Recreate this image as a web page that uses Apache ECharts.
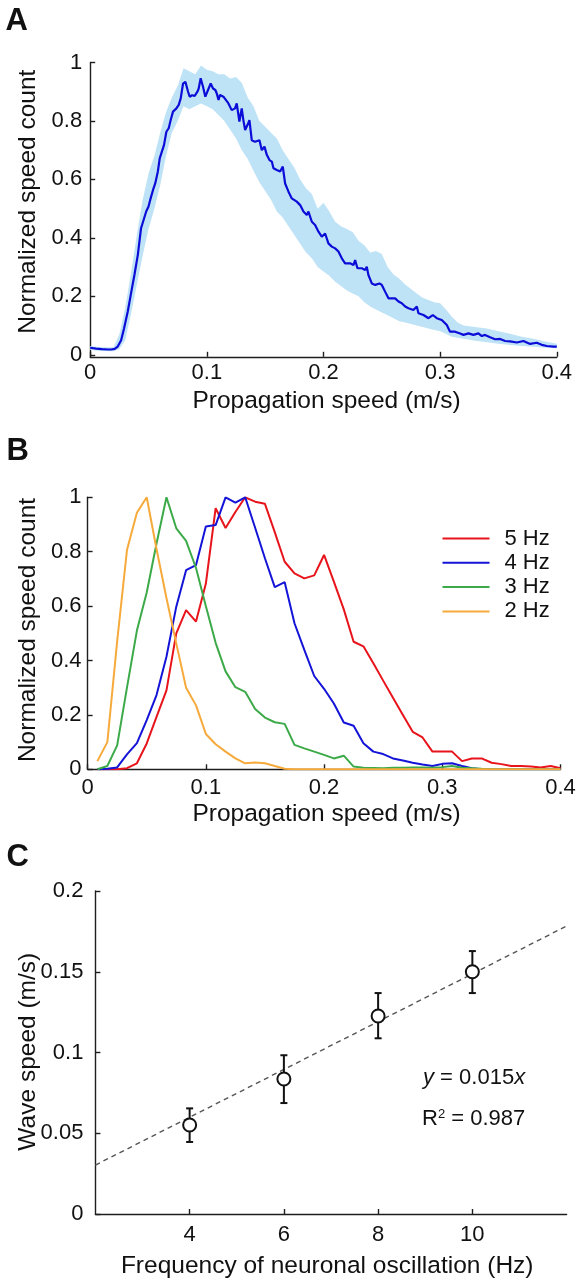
<!DOCTYPE html>
<html>
<head>
<meta charset="utf-8">
<script src="https://cdn.jsdelivr.net/npm/echarts@6/dist/echarts.min.js"></script>
<style>
html,body{margin:0;padding:0;background:#fff;}
#chart{width:582px;height:1286px;}
</style>
</head>
<body>
<div id="chart"></div>
<script>
// ---------- Panel A: mean normalized speed count with shaded band ----------
const speedA = [0,0.005,0.01,0.015,0.018,0.021,0.0236,0.0265,0.029,0.0322,0.035,0.0379,0.0408,0.0436,0.045,0.048,0.05,0.0518,0.0538,0.0558,0.058,0.0596,0.061,0.0633,0.0653,0.0673,0.069,0.071,0.0739,0.0759,0.0776,0.0796,0.0816,0.0839,0.0853,0.0873,0.0896,0.0919,0.093,0.0947,0.0967,0.0987,0.101,0.1033,0.1053,0.1073,0.1085,0.11,0.1113,0.1142,0.1156,0.1185,0.1213,0.1242,0.1256,0.1279,0.1299,0.1313,0.1328,0.1348,0.1365,0.1385,0.1413,0.1428,0.1451,0.1471,0.1494,0.1514,0.1537,0.1557,0.1571,0.16,0.1628,0.1651,0.1671,0.17,0.1728,0.1771,0.18,0.1828,0.1857,0.1871,0.19,0.1928,0.1957,0.1985,0.2014,0.2042,0.2071,0.21,0.2128,0.2157,0.2185,0.22,0.2228,0.2257,0.2271,0.2291,0.2328,0.2357,0.2371,0.2385,0.2414,0.2443,0.248,0.25,0.2528,0.2557,0.2585,0.2614,0.2643,0.2671,0.27,0.2728,0.2771,0.28,0.2814,0.2857,0.29,0.2937,0.2971,0.3014,0.3057,0.3085,0.3128,0.3171,0.32,0.3243,0.3285,0.3328,0.3357,0.3385,0.3428,0.3471,0.3514,0.3557,0.36,0.3657,0.3714,0.3771,0.3828,0.3871,0.3914,0.3971,0.4];
const meanA = [0.024,0.021,0.019,0.018,0.018,0.02,0.028,0.05,0.09,0.148,0.21,0.273,0.341,0.433,0.433,0.49,0.507,0.535,0.563,0.587,0.627,0.672,0.678,0.718,0.763,0.775,0.803,0.832,0.843,0.855,0.877,0.928,0.934,0.9,0.883,0.888,0.886,0.9,0.911,0.946,0.917,0.883,0.906,0.928,0.911,0.906,0.894,0.872,0.889,0.883,0.889,0.86,0.837,0.843,0.86,0.798,0.843,0.803,0.769,0.786,0.803,0.734,0.729,0.723,0.734,0.7,0.712,0.684,0.666,0.661,0.638,0.632,0.627,0.644,0.586,0.558,0.535,0.524,0.512,0.49,0.478,0.49,0.455,0.444,0.421,0.404,0.415,0.381,0.37,0.364,0.353,0.33,0.313,0.319,0.313,0.307,0.324,0.296,0.296,0.29,0.301,0.273,0.244,0.239,0.244,0.239,0.216,0.193,0.193,0.193,0.182,0.176,0.165,0.159,0.153,0.165,0.142,0.136,0.125,0.136,0.125,0.119,0.102,0.079,0.079,0.073,0.068,0.073,0.068,0.073,0.064,0.068,0.06,0.053,0.054,0.047,0.046,0.042,0.047,0.037,0.041,0.034,0.03,0.028,0.028];
const bandSpeed = [0,0.01,0.02,0.025,0.03,0.035,0.04,0.045,0.05,0.055,0.06,0.065,0.07,0.075,0.08,0.085,0.09,0.095,0.1,0.105,0.11,0.115,0.12,0.125,0.13,0.135,0.14,0.145,0.15,0.155,0.16,0.165,0.17,0.175,0.18,0.185,0.19,0.195,0.2,0.205,0.21,0.215,0.22,0.225,0.23,0.235,0.24,0.245,0.25,0.255,0.26,0.265,0.27,0.275,0.28,0.285,0.29,0.295,0.3,0.305,0.31,0.315,0.32,0.33,0.34,0.35,0.36,0.37,0.38,0.39,0.4];
const bandLow = [0.016,0.013,0.012,0.02,0.05,0.14,0.24,0.34,0.43,0.50,0.58,0.68,0.76,0.80,0.85,0.84,0.85,0.86,0.85,0.84,0.82,0.80,0.77,0.74,0.70,0.67,0.63,0.59,0.56,0.53,0.49,0.47,0.44,0.41,0.38,0.35,0.33,0.30,0.285,0.27,0.25,0.235,0.22,0.21,0.20,0.18,0.165,0.155,0.145,0.135,0.125,0.115,0.11,0.105,0.10,0.095,0.09,0.085,0.08,0.072,0.062,0.058,0.055,0.048,0.043,0.038,0.033,0.03,0.027,0.024,0.022];
const bandHigh = [0.03,0.026,0.026,0.07,0.16,0.28,0.41,0.53,0.62,0.68,0.76,0.83,0.88,0.92,0.98,0.97,0.96,0.99,0.975,0.97,0.96,0.96,0.945,0.95,0.93,0.88,0.85,0.80,0.78,0.76,0.74,0.70,0.67,0.64,0.60,0.57,0.55,0.50,0.52,0.49,0.455,0.44,0.43,0.42,0.39,0.375,0.35,0.355,0.345,0.30,0.275,0.26,0.24,0.225,0.21,0.195,0.187,0.18,0.176,0.155,0.13,0.11,0.10,0.095,0.09,0.08,0.072,0.062,0.055,0.045,0.038];

// ---------- Panel B: per-frequency speed histograms ----------
const speedB = [0.0083,0.0167,0.025,0.0333,0.0417,0.05,0.0583,0.0667,0.075,0.0833,0.0917,0.1,0.1083,0.1167,0.125,0.1333,0.1417,0.15,0.1583,0.1667,0.175,0.1833,0.1917,0.2,0.2083,0.2167,0.225,0.2333,0.2417,0.25,0.2583,0.2667,0.275,0.2833,0.2917,0.3,0.3083,0.3167,0.325,0.3333,0.3417,0.35,0.3583,0.3667,0.375,0.3833,0.3917,0.4];
const hz5 = [0,0,0,0.004,0.022,0.095,0.193,0.29,0.5,0.585,0.543,0.682,0.96,0.887,0.946,1.0,0.984,0.976,0.872,0.763,0.72,0.702,0.713,0.788,0.69,0.588,0.469,0.452,0.39,0.326,0.263,0.2,0.138,0.117,0.065,0.065,0.065,0.03,0.04,0.04,0.024,0.019,0.012,0.012,0.01,0.007,0.012,0.004];
const hz4 = [0,0.002,0.007,0.055,0.096,0.181,0.273,0.414,0.598,0.732,0.751,0.893,0.898,1.0,0.98,1.0,0.888,0.776,0.67,0.688,0.537,0.439,0.343,0.296,0.242,0.172,0.16,0.096,0.065,0.056,0.04,0.032,0.024,0.018,0.012,0.02,0.022,0.012,0.004,0,0,0,0,0,0,0,0,0];
const hz3 = [0,0.012,0.088,0.30,0.51,0.65,0.83,1.0,0.886,0.84,0.74,0.60,0.465,0.36,0.302,0.285,0.222,0.19,0.173,0.167,0.09,0.077,0.065,0.053,0.04,0.05,0.01,0.006,0.005,0.004,0.006,0.006,0.007,0.007,0.006,0.008,0.012,0.006,0.004,0.002,0,0,0,0,0,0,0,0];
const hz2 = [0.03,0.10,0.47,0.806,0.943,1.0,0.81,0.63,0.463,0.30,0.235,0.13,0.092,0.065,0.04,0.022,0.025,0.022,0.012,0.002,0,0,0,0,0,0,0,0,0,0,0,0,0,0,0,0,0,0,0,0,0,0,0,0,0,0,0,0];
const legendB = ['5 Hz','4 Hz','3 Hz','2 Hz'];

// ---------- Panel C: wave speed vs oscillation frequency ----------
const freqC = [4,6,8,10];
const waveSpeed = [0.0551,0.0836,0.1226,0.150];
const errLow = [0.0446,0.0687,0.1088,0.1368];
const errHigh = [0.0654,0.0983,0.1368,0.1628];
const fitLine = [[2,0.0303],[12,0.1783]];
const ticksA = [0,0.2,0.4,0.6,0.8,1];
const ticksCx = [4,6,8,10];

const FONT = "'Liberation Sans', Arial, sans-serif";
const AX = '#1e1e1e';

function zip(a,b){ return a.map((v,i)=>[v,b[i]]); }
function axis(extra, labelExtra){
  return Object.assign({
    type:'value',
    axisLine:{show:true,onZero:false,lineStyle:{color:AX,width:1.4}},
    axisTick:{show:true,inside:true,length:5,lineStyle:{color:AX,width:1.4}},
    splitLine:{show:false},
    axisLabel:Object.assign({color:'#111',fontSize:22,fontFamily:FONT}, labelExtra||{})
  }, extra);
}
function txt(text,x,y,size,o){
  o = o||{};
  return {type:'text', x:x, y:y, rotation:o.rot||0, z:100,
    style:{text:text, fontSize:size, fontFamily:FONT, fontWeight:o.bold?'bold':'normal', fill:'#111',
      align:o.align||'center', verticalAlign:'middle', textAlign:o.align||'center', textVerticalAlign:'middle', rich:o.rich}};
}
const fmt = v => String(+(+v).toFixed(3));

const chart = echarts.init(document.getElementById('chart'), null, {renderer:'canvas'});
const option = {
  backgroundColor:'#fff',
  animation:false,
  grid:[
    {left:90.2, top:62.5, width:466.6, height:294.3},
    {left:87.6, top:497.3, width:472.9, height:272},
    {left:95.4, top:891, width:471.2, height:323}
  ],
  xAxis:[
    axis({gridIndex:0,min:0,max:0.4,interval:0.1},{margin:5,formatter:fmt}),
    axis({gridIndex:1,min:0,max:0.4,interval:0.1},{margin:8,formatter:fmt}),
    axis({gridIndex:2,min:2,max:12,axisTick:{show:true,inside:true,length:5,lineStyle:{color:AX,width:1.4},customValues:ticksCx}},{margin:10,customValues:ticksCx})
  ],
  yAxis:[
    axis({gridIndex:0,min:-0.007,max:1,axisTick:{show:true,inside:true,length:5,lineStyle:{color:AX,width:1.4},customValues:ticksA}},{margin:8,customValues:ticksA,formatter:fmt}),
    axis({gridIndex:1,min:0,max:1,interval:0.2},{margin:6,formatter:fmt}),
    axis({gridIndex:2,min:0,max:0.2,interval:0.05},{margin:12,formatter:fmt})
  ],
  legend:{
    data:legendB, orient:'vertical', left:442.5, top:527.5, padding:0,
    icon:'rect', itemWidth:47, itemHeight:2, itemGap:2.3, selectedMode:false,
    textStyle:{fontSize:22, fontFamily:FONT, color:'#111', lineHeight:22, padding:[0,0,0,10]}
  },
  series:[
    {name:'band', type:'custom', xAxisIndex:0, yAxisIndex:0, coordinateSystem:'cartesian2d', silent:true, z:1,
      data:[[bandSpeed[0], bandLow[0]]],
      renderItem:function(params, api){
        const pts = [];
        for (let i=0;i<bandSpeed.length;i++) pts.push(api.coord([bandSpeed[i], bandHigh[i]]));
        for (let i=bandSpeed.length-1;i>=0;i--) pts.push(api.coord([bandSpeed[i], bandLow[i]]));
        return {type:'polygon', shape:{points:pts}, style:{fill:'#bfe3f6', stroke:null}};
      }},
    {name:'mean', type:'line', xAxisIndex:0, yAxisIndex:0, symbol:'none', silent:true,
      lineStyle:{color:'#0c0cd8', width:2.2}, data:zip(speedA,meanA), z:3},

    {name:'5 Hz', type:'line', xAxisIndex:1, yAxisIndex:1, symbol:'none', color:'#e8141c', lineStyle:{width:2}, data:zip(speedB,hz5)},
    {name:'4 Hz', type:'line', xAxisIndex:1, yAxisIndex:1, symbol:'none', color:'#1414d8', lineStyle:{width:2}, data:zip(speedB,hz4)},
    {name:'3 Hz', type:'line', xAxisIndex:1, yAxisIndex:1, symbol:'none', color:'#3daa49', lineStyle:{width:2}, data:zip(speedB,hz3)},
    {name:'2 Hz', type:'line', xAxisIndex:1, yAxisIndex:1, symbol:'none', color:'#f6aa3c', lineStyle:{width:2}, data:zip(speedB,hz2)},

    {name:'fit', type:'line', xAxisIndex:2, yAxisIndex:2, symbol:'none', silent:true,
      lineStyle:{color:'#555', width:1.4, type:[5,4]}, data:fitLine, z:2},
    {name:'err', type:'custom', xAxisIndex:2, yAxisIndex:2, coordinateSystem:'cartesian2d', z:3,
      data:freqC.map((f,i)=>[f, waveSpeed[i], errLow[i], errHigh[i]]),
      encode:{x:0,y:1},
      renderItem:function(params, api){
        const x = api.value(0);
        const top = api.coord([x, api.value(3)]);
        const bot = api.coord([x, api.value(2)]);
        const w = 3.5, st = {stroke:'#111', lineWidth:2};
        return {type:'group', children:[
          {type:'line', shape:{x1:top[0],y1:top[1],x2:bot[0],y2:bot[1]}, style:st},
          {type:'line', shape:{x1:top[0]-w,y1:top[1],x2:top[0]+w,y2:top[1]}, style:st},
          {type:'line', shape:{x1:bot[0]-w,y1:bot[1],x2:bot[0]+w,y2:bot[1]}, style:st}
        ]};
      }},
    {name:'points', type:'scatter', xAxisIndex:2, yAxisIndex:2, symbol:'circle', symbolSize:13, z:4,
      itemStyle:{color:'#ffffff', borderColor:'#111', borderWidth:2, opacity:1}, data:zip(freqC,waveSpeed)}
  ],
  graphic:[
    txt('A',5.5,21,31,{bold:true,align:'left'}),
    txt('B',6.5,451.7,31,{bold:true,align:'left'}),
    txt('C',6.5,857.3,31,{bold:true,align:'left'}),
    txt('Normalized speed count',27.8,201.7,24.5,{rot:Math.PI/2}),
    txt('Propagation speed (m/s)',326.6,401.3,24.5),
    txt('Normalized speed count',27.8,630,24.5,{rot:Math.PI/2}),
    txt('Propagation speed (m/s)',326.6,813.9,24.5),
    txt('Wave speed (m/s)',28.5,1051.7,24.5,{rot:Math.PI/2}),
    txt('Frequency of neuronal oscillation (Hz)',327.2,1266.7,24.5),
    txt('{i|y}{a| = 0.015}{i|x}',423,1078.3,22,{align:'left',rich:{
      i:{fontStyle:'italic',fontSize:22,fontFamily:FONT,fill:'#111'},
      a:{fontSize:22,fontFamily:FONT,fill:'#111'}}}),
    txt('{a|R}{s|2}{a| = 0.987}',422,1119,22,{align:'left',rich:{
      a:{fontSize:22,fontFamily:FONT,fill:'#111'},
      s:{fontSize:13,fontFamily:FONT,fill:'#111',verticalAlign:'top'}}})
  ]
};
chart.setOption(option);
</script>
</body>
</html>
